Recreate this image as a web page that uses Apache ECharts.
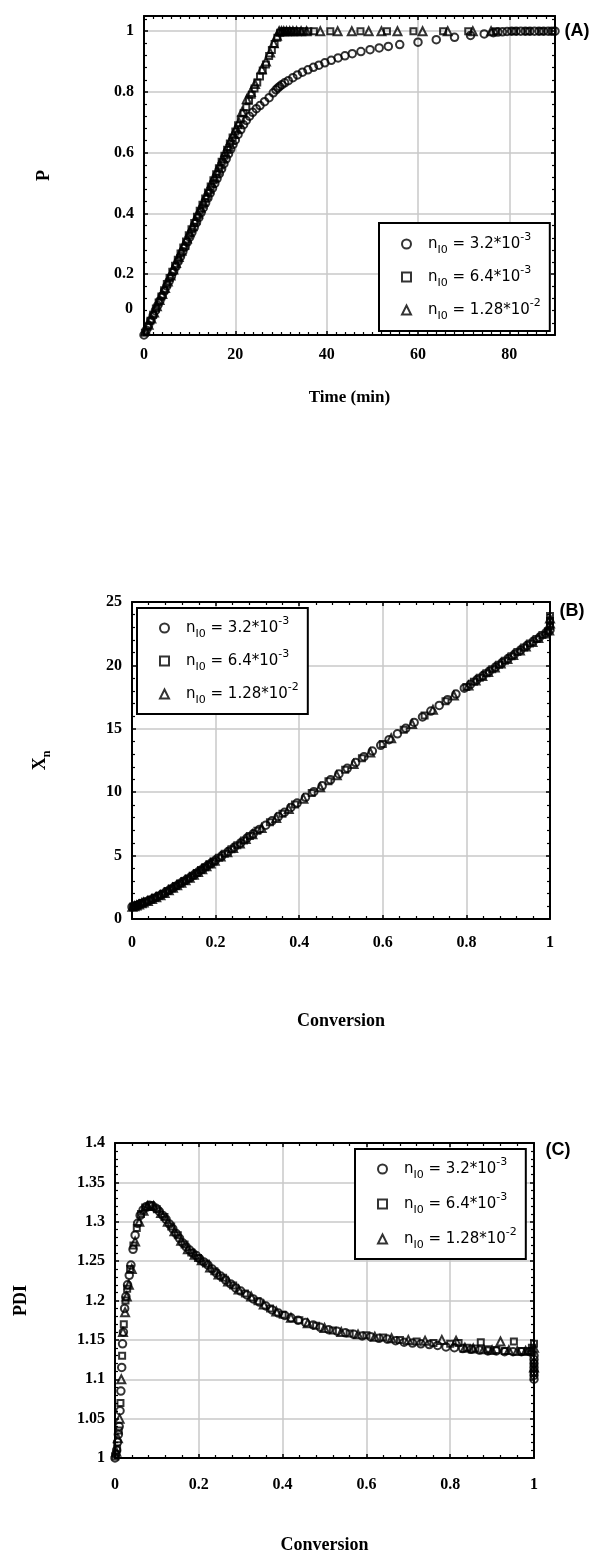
<!DOCTYPE html>
<html>
<head>
<meta charset="utf-8">
<script src="https://cdn.jsdelivr.net/npm/echarts@6/dist/echarts.min.js"></script>
<style>
  html, body { margin: 0; padding: 0; background: #fff; }
  #chart { width: 595px; height: 1555px; }
</style>
</head>
<body>
<div id="chart"></div>
<script>
// ---- panel A: P vs time (min) ----
const timeCircleA = [0, 0.5, 1, 1.5, 2, 2.5, 3, 3.5, 4, 4.5, 5, 5.5, 6, 6.5, 7, 7.5, 8, 8.5, 9, 9.5, 10, 10.5, 11, 11.5, 12, 12.5, 13, 13.5, 14, 14.5, 15, 15.5, 16, 16.5, 17, 17.5, 18, 18.5, 19, 19.5, 20,
  20.6, 21.2, 21.8, 22.4, 23.1, 23.8, 24.6, 25.4, 26.4, 27.4, 28.3, 28.9, 29.3, 29.7, 30.2, 30.8, 31.6, 32.6, 33.6, 34.7, 35.9, 37.1, 38.3, 39.6, 41, 42.5, 44, 45.6, 47.5, 49.5, 51.5, 53.5, 56, 60, 64, 68, 71.5, 74.5, 76.5, 77.5, 78.5, 79.5, 80.5, 81.5, 82.5, 83.5, 84.5, 85.5, 86.5, 87.5, 88.5, 89.3, 90];
const pCircleA = [0, 0.016, 0.032, 0.048, 0.064, 0.08, 0.097, 0.113, 0.129, 0.145, 0.161, 0.177, 0.193, 0.209, 0.225, 0.242, 0.258, 0.274, 0.29, 0.306, 0.322, 0.338, 0.354, 0.37, 0.386, 0.403, 0.419, 0.435, 0.451, 0.467, 0.483, 0.499, 0.515, 0.531, 0.547, 0.564, 0.58, 0.596, 0.612, 0.627, 0.642,
  0.66, 0.676, 0.692, 0.706, 0.72, 0.733, 0.745, 0.755, 0.768, 0.781, 0.797, 0.807, 0.813, 0.818, 0.824, 0.83, 0.837, 0.847, 0.856, 0.865, 0.873, 0.881, 0.888, 0.896, 0.904, 0.912, 0.919, 0.926, 0.933, 0.939, 0.945, 0.95, 0.956, 0.964, 0.972, 0.98, 0.986, 0.991, 0.995, 0.997, 0.998, 0.999, 1, 1, 1, 1, 1, 1, 1, 1, 1, 1, 1];

const timeSquareA = [0.2, 0.8, 1.4, 2, 2.6, 3.2, 3.8, 4.4, 5, 5.6, 6.2, 6.8, 7.4, 8, 8.6, 9.2, 9.8, 10.4, 11, 11.6, 12.2, 12.8, 13.4, 14, 14.6, 15.2, 15.8, 16.4, 17, 17.6, 18.2, 18.8, 19.4, 20, 20.6, 21.2, 21.8, 22.4, 23, 23.6, 24.2, 24.8, 25.4, 26, 26.7, 27.4, 28, 28.6, 29.2, 29.8,
  30.3, 30.8, 31.3, 31.8, 32.3, 32.8, 33.5, 34.2, 35, 36, 37.2, 40.8, 47.4, 53.2, 59, 65.5, 71, 77, 81, 84, 87, 89.5];
const pSquareA = [0.007, 0.027, 0.047, 0.067, 0.087, 0.107, 0.127, 0.147, 0.168, 0.188, 0.208, 0.228, 0.248, 0.268, 0.288, 0.308, 0.328, 0.348, 0.369, 0.389, 0.409, 0.429, 0.449, 0.469, 0.489, 0.509, 0.529, 0.549, 0.57, 0.59, 0.61, 0.63, 0.65, 0.67, 0.69, 0.71, 0.73, 0.75, 0.771, 0.791, 0.811, 0.831, 0.851, 0.871, 0.89, 0.918, 0.938, 0.958, 0.978, 0.995,
  1, 1, 1, 1, 1, 1, 1, 1, 1, 1, 1, 1, 1, 1, 1, 1, 1, 1, 1, 1, 1, 1];

const timeTriangleA = [0.4, 1, 1.6, 2.2, 2.8, 3.4, 4, 4.6, 5.2, 5.8, 6.4, 7, 7.6, 8.2, 8.8, 9.4, 10, 10.6, 11.2, 11.8, 12.4, 13, 13.6, 14.2, 14.8, 15.4, 16, 16.6, 17.2, 17.8, 18.4, 19, 19.6, 20.2, 20.8, 21.5, 22.5, 23.4, 24.3, 25.8, 26.7, 27.6, 28.4, 29.1,
  29.6, 30.1, 30.6, 31.2, 31.9, 32.6, 33.4, 34.4, 35.6, 38.6, 42.4, 45.5, 49.2, 52, 55.5, 61, 66.5, 72, 76];
const pTriangleA = [0.014, 0.034, 0.054, 0.074, 0.095, 0.115, 0.135, 0.155, 0.176, 0.196, 0.216, 0.237, 0.257, 0.277, 0.297, 0.318, 0.338, 0.358, 0.379, 0.399, 0.419, 0.439, 0.46, 0.48, 0.5, 0.52, 0.541, 0.561, 0.581, 0.602, 0.622, 0.642, 0.662, 0.68, 0.7, 0.735, 0.776, 0.8, 0.826, 0.875, 0.9, 0.93, 0.96, 0.985,
  1, 1, 1, 1, 1, 1, 1, 1, 1, 1, 1, 1, 1, 1, 1, 1, 1, 1, 1];

// ---- panel B: Xn vs conversion ----
const convCircleB = [0, 0.005, 0.01, 0.015, 0.02, 0.03, 0.04, 0.05, 0.06, 0.07, 0.08, 0.09, 0.1, 0.11, 0.12, 0.13, 0.14, 0.15, 0.16, 0.17, 0.18, 0.19, 0.2, 0.215, 0.23, 0.245, 0.26, 0.275, 0.29, 0.305, 0.32, 0.335, 0.35, 0.365, 0.38, 0.395, 0.415, 0.435, 0.455, 0.475, 0.495, 0.515, 0.535, 0.555, 0.575, 0.595, 0.615, 0.635, 0.655, 0.675, 0.695, 0.715, 0.735, 0.755, 0.775, 0.795, 0.81, 0.825, 0.84, 0.855, 0.87, 0.885, 0.9, 0.915, 0.93, 0.945, 0.96, 0.975, 0.99, 1.0];
const xnCircleB = [0.95, 1.0, 1.05, 1.12, 1.2, 1.32, 1.45, 1.6, 1.75, 1.92, 2.1, 2.3, 2.5, 2.7, 2.9, 3.1, 3.3, 3.52, 3.75, 3.98, 4.2, 4.42, 4.65, 4.98, 5.32, 5.66, 6.0, 6.38, 6.72, 7.06, 7.4, 7.74, 8.08, 8.42, 8.8, 9.14, 9.6, 10.04, 10.5, 10.98, 11.44, 11.88, 12.34, 12.8, 13.24, 13.7, 14.14, 14.6, 15.04, 15.5, 15.94, 16.4, 16.84, 17.3, 17.74, 18.2, 18.52, 18.86, 19.2, 19.54, 19.88, 20.2, 20.55, 20.88, 21.22, 21.56, 21.9, 22.22, 22.57, 22.8];

const convSquareB = [0.003, 0.008, 0.013, 0.025, 0.035, 0.045, 0.055, 0.065, 0.075, 0.085, 0.095, 0.105, 0.115, 0.125, 0.135, 0.145, 0.155, 0.165, 0.175, 0.185, 0.195, 0.208, 0.222, 0.238, 0.252, 0.268, 0.282, 0.3, 0.33, 0.36, 0.39, 0.43, 0.47, 0.51, 0.55, 0.6, 0.65, 0.7, 0.75, 0.8, 0.818, 0.832, 0.848, 0.862, 0.878, 0.892, 0.908, 0.922, 0.938, 0.952, 0.968, 0.982, 0.995, 1.0, 1.0, 1.0];
const xnSquareB = [0.98, 1.03, 1.09, 1.26, 1.38, 1.52, 1.67, 1.83, 2.0, 2.2, 2.4, 2.6, 2.8, 3.0, 3.2, 3.41, 3.63, 3.86, 4.09, 4.31, 4.54, 4.83, 5.14, 5.5, 5.82, 6.2, 6.54, 6.95, 7.63, 8.3, 9.03, 9.93, 10.86, 11.77, 12.68, 13.8, 14.93, 16.05, 17.18, 18.3, 18.71, 19.02, 19.38, 19.7, 20.05, 20.37, 20.73, 21.05, 21.41, 21.72, 22.08, 22.4, 22.7, 23.1, 23.5, 23.9];

const convTriangleB = [0.001, 0.006, 0.011, 0.017, 0.023, 0.028, 0.038, 0.048, 0.058, 0.068, 0.078, 0.088, 0.098, 0.108, 0.118, 0.128, 0.138, 0.148, 0.158, 0.168, 0.178, 0.188, 0.198, 0.212, 0.228, 0.242, 0.258, 0.272, 0.288, 0.31, 0.345, 0.375, 0.41, 0.45, 0.49, 0.53, 0.57, 0.62, 0.67, 0.72, 0.77, 0.805, 0.822, 0.838, 0.852, 0.868, 0.882, 0.898, 0.912, 0.928, 0.942, 0.958, 0.972, 0.988, 0.998, 1.0, 1.0];
const xnTriangleB = [0.96, 1.01, 1.06, 1.15, 1.24, 1.3, 1.42, 1.57, 1.72, 1.88, 2.06, 2.26, 2.46, 2.66, 2.86, 3.06, 3.26, 3.48, 3.7, 3.93, 4.16, 4.38, 4.6, 4.92, 5.27, 5.59, 5.95, 6.3, 6.68, 7.17, 7.97, 8.67, 9.49, 10.39, 11.33, 12.23, 13.13, 14.25, 15.38, 16.5, 17.63, 18.42, 18.8, 19.16, 19.47, 19.83, 20.14, 20.5, 20.82, 21.18, 21.49, 21.85, 22.16, 22.52, 22.75, 23.3, 23.7];

// ---- panel C: PDI vs conversion ----
const convCircleC = [0, 0.002, 0.004, 0.006, 0.008, 0.01, 0.012, 0.014, 0.016, 0.018, 0.02, 0.023, 0.026, 0.03, 0.034, 0.038, 0.043, 0.048, 0.054, 0.06, 0.067, 0.074, 0.082, 0.09, 0.098, 0.106, 0.114, 0.122, 0.13, 0.138, 0.146, 0.154, 0.162, 0.17, 0.178, 0.186, 0.194, 0.202, 0.212, 0.222, 0.232, 0.242, 0.252, 0.264, 0.276, 0.288, 0.3, 0.315, 0.33, 0.345, 0.36, 0.375, 0.39, 0.405, 0.42, 0.437, 0.455, 0.473, 0.49, 0.51, 0.53, 0.55, 0.57, 0.59, 0.61, 0.63, 0.65, 0.67, 0.69, 0.71, 0.73, 0.75, 0.77, 0.79, 0.81, 0.83, 0.85, 0.87, 0.89, 0.91, 0.93, 0.95, 0.97, 0.99, 1.0, 1.0, 1.0, 1.0, 1.0, 1.0, 1.0];
const pdiCircleC = [1.0, 1.005, 1.01, 1.02, 1.03, 1.04, 1.06, 1.085, 1.115, 1.145, 1.16, 1.19, 1.205, 1.22, 1.232, 1.245, 1.265, 1.283, 1.298, 1.308, 1.315, 1.319, 1.321, 1.32, 1.317, 1.313, 1.308, 1.303, 1.297, 1.291, 1.285, 1.279, 1.273, 1.268, 1.264, 1.26, 1.257, 1.253, 1.249, 1.245, 1.24, 1.235, 1.231, 1.226, 1.221, 1.216, 1.212, 1.207, 1.202, 1.198, 1.193, 1.188, 1.184, 1.181, 1.178, 1.175, 1.172, 1.169, 1.166, 1.163, 1.161, 1.159, 1.157, 1.155, 1.154, 1.152, 1.151, 1.149, 1.147, 1.146, 1.145, 1.144, 1.143, 1.141, 1.14, 1.139, 1.138, 1.137, 1.136, 1.136, 1.135, 1.135, 1.135, 1.135, 1.13, 1.125, 1.12, 1.115, 1.11, 1.105, 1.1];

const convSquareC = [0.001, 0.005, 0.009, 0.013, 0.017, 0.021, 0.025, 0.029, 0.036, 0.044, 0.052, 0.062, 0.072, 0.085, 0.1, 0.118, 0.134, 0.15, 0.166, 0.182, 0.198, 0.217, 0.237, 0.258, 0.282, 0.31, 0.34, 0.37, 0.4, 0.44, 0.48, 0.52, 0.56, 0.6, 0.64, 0.68, 0.72, 0.76, 0.8, 0.82, 0.84, 0.86, 0.873, 0.89, 0.91, 0.93, 0.952, 0.97, 0.985, 0.995, 1.0, 1.0, 1.0];
const pdiSquareC = [1.002, 1.012, 1.035, 1.07, 1.13, 1.17, 1.2, 1.215, 1.24, 1.27, 1.292, 1.31, 1.318, 1.321, 1.316, 1.306, 1.294, 1.283, 1.271, 1.261, 1.254, 1.247, 1.237, 1.229, 1.219, 1.209, 1.199, 1.19, 1.182, 1.175, 1.168, 1.162, 1.158, 1.156, 1.153, 1.15, 1.148, 1.146, 1.145, 1.146, 1.14, 1.139, 1.147, 1.138, 1.137, 1.136, 1.148, 1.136, 1.136, 1.14, 1.145, 1.12, 1.108];

const convTriangleC = [0.003, 0.007, 0.011, 0.015, 0.019, 0.024, 0.028, 0.033, 0.04, 0.048, 0.058, 0.068, 0.078, 0.092, 0.11, 0.126, 0.142, 0.158, 0.174, 0.19, 0.207, 0.227, 0.247, 0.27, 0.295, 0.325, 0.355, 0.385, 0.42, 0.46, 0.5, 0.54, 0.58, 0.62, 0.66, 0.7, 0.74, 0.78, 0.814, 0.835, 0.855, 0.88, 0.9, 0.92, 0.94, 0.96, 0.98, 0.993, 1.0, 1.0];
const pdiTriangleC = [1.008, 1.025, 1.05, 1.1, 1.16, 1.185, 1.205, 1.22, 1.24, 1.275, 1.3, 1.314, 1.32, 1.32, 1.311, 1.3, 1.288, 1.276, 1.265, 1.258, 1.251, 1.242, 1.233, 1.224, 1.214, 1.205, 1.195, 1.186, 1.178, 1.171, 1.165, 1.16, 1.157, 1.154, 1.152, 1.15, 1.149, 1.15, 1.149, 1.14, 1.139, 1.138, 1.137, 1.148, 1.137, 1.136, 1.136, 1.137, 1.14, 1.115];

// legend: [mantissa, exponent]
const seriesNames = ['c1', 'c2', 'c3'];
const legendValues = { c1: ['3.2', '-3'], c2: ['6.4', '-3'], c3: ['1.28', '-2'] };
const panelTags = ['(A)', '(B)', '(C)'];

const zip = (xs, ys) => xs.map((x, i) => [x, ys[i]]);

const serifLabel = { fontFamily: 'Liberation Serif', fontWeight: 'bold', fontSize: 16, color: '#000' };

function xAxes(grid, min, max, interval, minorSplit, margin, name, nameGap, nameSize) {
  return [
    {
      type: 'value', gridIndex: grid, position: 'bottom', min, max, interval,
      name, nameLocation: 'middle', nameGap,
      nameTextStyle: { fontFamily: 'Liberation Serif', fontWeight: 'bold', fontSize: nameSize, color: '#000' },
      axisLine: { show: true, onZero: false, lineStyle: { color: '#000', width: 2 } },
      axisTick: { show: true, inside: true, length: 4, lineStyle: { color: '#000', width: 1.5 } },
      minorTick: { show: true, splitNumber: minorSplit, length: 3, lineStyle: { color: '#000', width: 1.2 } },
      axisLabel: { ...serifLabel, margin, showMaxLabel: max === 1 },
      splitLine: { show: true, lineStyle: { color: '#c8c8c8', width: 1.5 } }
    },
    {
      type: 'value', gridIndex: grid, position: 'top', min, max, interval,
      axisLine: { show: true, onZero: false, lineStyle: { color: '#000', width: 2 } },
      axisTick: { show: true, inside: true, length: 4, lineStyle: { color: '#000', width: 1.5 } },
      minorTick: { show: true, splitNumber: minorSplit, length: 3, lineStyle: { color: '#000', width: 1.2 } },
      axisLabel: { show: false },
      splitLine: { show: false }
    }
  ];
}

function yAxes(grid, min, max, interval, minorSplit, name, nameGap, formatter) {
  return [
    {
      type: 'value', gridIndex: grid, position: 'left', min, max, interval,
      name, nameLocation: 'middle', nameGap, nameRotate: 90,
      nameTextStyle: {
        fontFamily: 'Liberation Serif', fontWeight: 'bold', fontSize: 18, color: '#000',
        rich: {
          b: { fontFamily: 'Liberation Serif', fontWeight: 'bold', fontSize: 18, color: '#000', verticalAlign: 'middle', lineHeight: 26 },
          s: { fontFamily: 'Liberation Serif', fontWeight: 'bold', fontSize: 12, color: '#000', verticalAlign: 'bottom', lineHeight: 26 }
        }
      },
      axisLine: { show: true, onZero: false, lineStyle: { color: '#000', width: 2 } },
      axisTick: { show: true, inside: true, length: 4, lineStyle: { color: '#000', width: 1.5 } },
      minorTick: { show: true, splitNumber: minorSplit, length: 3, lineStyle: { color: '#000', width: 1.2 } },
      axisLabel: { ...serifLabel, margin: 10, formatter },
      splitLine: { show: true, lineStyle: { color: '#c8c8c8', width: 1.5 } }
    },
    {
      type: 'value', gridIndex: grid, position: 'right', min, max, interval,
      axisLine: { show: true, onZero: false, lineStyle: { color: '#000', width: 2 } },
      axisTick: { show: true, inside: true, length: 4, lineStyle: { color: '#000', width: 1.5 } },
      minorTick: { show: true, splitNumber: minorSplit, length: 3, lineStyle: { color: '#000', width: 1.2 } },
      axisLabel: { show: false },
      splitLine: { show: false }
    }
  ];
}

const symbols = [['circle', 7.5], ['rect', 6], ['triangle', 8]];

function makeSeries(grid, idx, xs, ys) {
  return {
    name: seriesNames[idx], type: 'scatter',
    xAxisIndex: grid * 2, yAxisIndex: grid * 2,
    symbol: symbols[idx][0], symbolSize: symbols[idx][1],
    clip: false, silent: true,
    itemStyle: { color: 'rgba(0,0,0,0)', borderColor: '#000', borderWidth: 2 },
    data: zip(xs, ys)
  };
}

function makeLegend(left, top, gap, padTop) {
  return {
    data: seriesNames, orient: 'vertical', left, top,
    itemWidth: 9, itemHeight: 9, itemGap: gap,
    padding: [padTop, 9, padTop, 22],
    borderColor: '#000', borderWidth: 2, backgroundColor: '#fff',
    selectedMode: false,
    itemStyle: { color: 'rgba(0,0,0,0)', borderColor: '#000', borderWidth: 2 },
    formatter: name => `{n|n}{s|I0}{n| = ${legendValues[name][0]}*10}{p|${legendValues[name][1]}}`,
    textStyle: {
      padding: [0, 0, 0, 12],
      rich: {
        n: { fontFamily: 'DejaVu Sans', fontSize: 15, color: '#000', verticalAlign: 'middle', lineHeight: 24 },
        s: { fontFamily: 'DejaVu Sans', fontSize: 11, color: '#000', verticalAlign: 'bottom', lineHeight: 24 },
        p: { fontFamily: 'DejaVu Sans', fontSize: 11, color: '#000', verticalAlign: 'top', lineHeight: 24 }
      }
    }
  };
}

const grids = [
  { left: 144, top: 16, width: 411, height: 319 },
  { left: 132, top: 602, width: 418, height: 317 },
  { left: 115, top: 1143, width: 419, height: 325 }
];

const tagPos = [[577, 31], [572, 611], [558, 1150]];

const option = {
  animation: false,
  backgroundColor: '#fff',
  grid: grids,
  xAxis: [
    ...xAxes(0, 0, 90, 20, 10, 12, 'Time (min)', 54, 17),
    ...xAxes(1, 0, 1, 0.2, 5, 16, 'Conversion', 93, 18),
    ...xAxes(2, 0, 1, 0.2, 5, 19, 'Conversion', 78, 18)
  ],
  yAxis: [
    ...yAxes(0, 0, 1.05, 0.2, 5, 'P', 91, v => (v === 0 || v > 1.01) ? '' : String(v)),
    ...yAxes(1, 0, 25, 5, 5, '{b|X}{s|n}', 79),
    ...yAxes(2, 1, 1.4, 0.05, 5, 'PDI', 85)
  ],
  legend: [
    makeLegend(379, 223, 9, 9),
    makeLegend(137, 608, 9, 8),
    makeLegend(355, 1149, 11, 8)
  ],
  graphic: [
    // the '0' tick label of panel A sits above the axis in the original figure
    { type: 'text', style: { x: 133, y: 309, text: '0', align: 'right', verticalAlign: 'middle', font: 'bold 16px "Liberation Serif"', fill: '#000' } },
    ...panelTags.map((t, i) => ({
      type: 'text',
      style: { x: tagPos[i][0], y: tagPos[i][1], text: t, align: 'center', verticalAlign: 'middle', font: 'bold 18px "Liberation Sans"', fill: '#000' }
    }))
  ],
  series: [
    makeSeries(0, 0, timeCircleA, pCircleA),
    makeSeries(0, 1, timeSquareA, pSquareA),
    makeSeries(0, 2, timeTriangleA, pTriangleA),
    makeSeries(1, 0, convCircleB, xnCircleB),
    makeSeries(1, 1, convSquareB, xnSquareB),
    makeSeries(1, 2, convTriangleB, xnTriangleB),
    makeSeries(2, 0, convCircleC, pdiCircleC),
    makeSeries(2, 1, convSquareC, pdiSquareC),
    makeSeries(2, 2, convTriangleC, pdiTriangleC)
  ]
};

const myChart = echarts.init(document.getElementById('chart'));
myChart.setOption(option);
</script>
</body>
</html>
